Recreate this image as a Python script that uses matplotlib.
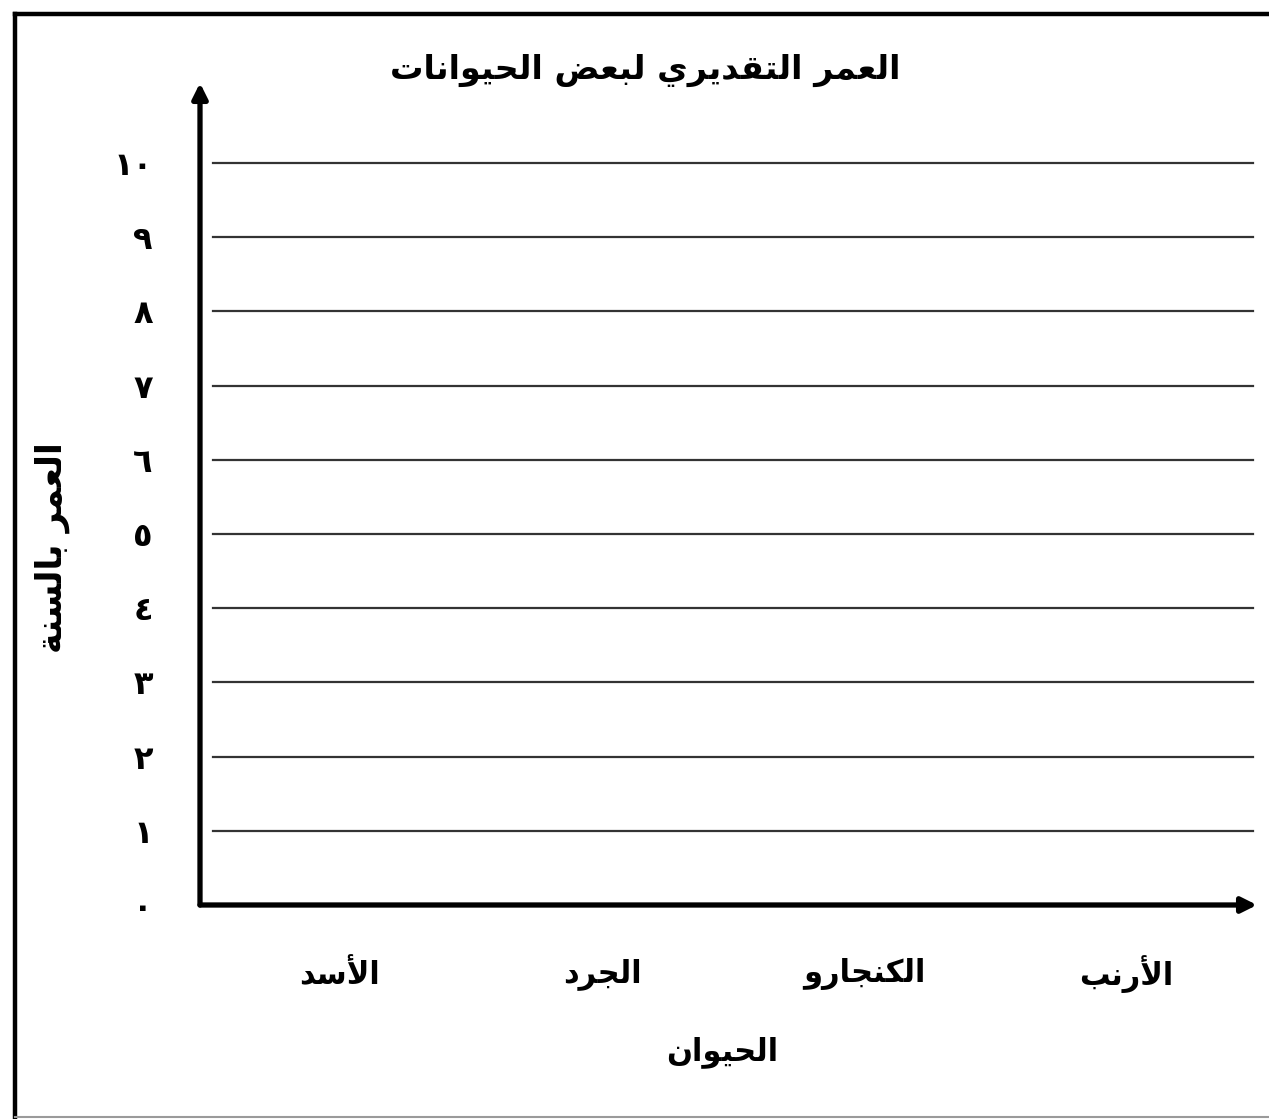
import matplotlib
matplotlib.use("Agg")
import matplotlib.pyplot as plt
from matplotlib.lines import Line2D

# ---------------- data ----------------
title_text = "العمر التقديري لبعض الحيوانات"
x_label = "الحيوان"
y_label = "العمر بالسنة"
categories = ["الأسد", "الجرد", "الكنجارو", "الأرنب"]
y_ticks = list(range(0, 11))
y_tick_labels = ["٠", "١", "٢", "٣", "٤", "٥", "٦", "٧", "٨", "٩", "١٠"]

# ---------------- simple Arabic shaping ----------------
FORMS = {
    '\u0627': ('\uFE8D', '\uFE8E', None, None),
    '\u0623': ('\uFE83', '\uFE84', None, None),
    '\u0628': ('\uFE8F', '\uFE90', '\uFE91', '\uFE92'),
    '\u0629': ('\uFE93', '\uFE94', None, None),
    '\u062A': ('\uFE95', '\uFE96', '\uFE97', '\uFE98'),
    '\u062C': ('\uFE9D', '\uFE9E', '\uFE9F', '\uFEA0'),
    '\u062D': ('\uFEA1', '\uFEA2', '\uFEA3', '\uFEA4'),
    '\u062F': ('\uFEA9', '\uFEAA', None, None),
    '\u0630': ('\uFEAB', '\uFEAC', None, None),
    '\u0631': ('\uFEAD', '\uFEAE', None, None),
    '\u0633': ('\uFEB1', '\uFEB2', '\uFEB3', '\uFEB4'),
    '\u0636': ('\uFEBD', '\uFEBE', '\uFEBF', '\uFEC0'),
    '\u0639': ('\uFEC9', '\uFECA', '\uFECB', '\uFECC'),
    '\u0642': ('\uFED5', '\uFED6', '\uFED7', '\uFED8'),
    '\u0643': ('\uFED9', '\uFEDA', '\uFEDB', '\uFEDC'),
    '\u0644': ('\uFEDD', '\uFEDE', '\uFEDF', '\uFEE0'),
    '\u0645': ('\uFEE1', '\uFEE2', '\uFEE3', '\uFEE4'),
    '\u0646': ('\uFEE5', '\uFEE6', '\uFEE7', '\uFEE8'),
    '\u0648': ('\uFEED', '\uFEEE', None, None),
    '\u064A': ('\uFEF1', '\uFEF2', '\uFEF3', '\uFEF4'),
}
LAM_ALEF = {'\u0627': ('\uFEFB', '\uFEFC'), '\u0623': ('\uFEF7', '\uFEF8')}


def shape(text):
    words_out = []
    for word in text.split(' '):
        toks = []
        i = 0
        while i < len(word):
            c = word[i]
            if c == '\u0644' and i + 1 < len(word) and word[i + 1] in LAM_ALEF:
                iso, fin = LAM_ALEF[word[i + 1]]
                toks.append((iso, fin, None, None))
                i += 2
            elif c in FORMS:
                toks.append(FORMS[c])
                i += 1
            else:
                toks.append((c, c, None, None))
                i += 1
        res = []
        for j, t in enumerate(toks):
            prev_joins = j > 0 and toks[j - 1][2] is not None
            join_next = t[2] is not None and j < len(toks) - 1
            if prev_joins and join_next:
                g = t[3]
            elif prev_joins:
                g = t[1]
            elif join_next:
                g = t[2]
            else:
                g = t[0]
            res.append(g)
        words_out.append(''.join(res)[::-1])
    return ' '.join(words_out[::-1])


# ---------------- figure ----------------
W, H = 1269, 1119
fig = plt.figure(figsize=(W / 100, H / 100), dpi=100)
fig.patch.set_facecolor('white')

FONT = ['DejaVu Sans']

x0_px, x1_px = 200, 1257
y0_px, y1_px = 905, 83
ax = fig.add_axes([x0_px / W, (H - y0_px) / H, (x1_px - x0_px) / W, (y0_px - y1_px) / H])
ax.set_facecolor('none')

x_idx = list(range(len(categories)))
ax.set_xlim(-0.534, 3.50)
ax.set_ylim(0, 11.08)

for s in ax.spines.values():
    s.set_visible(False)

# horizontal guide lines
for v in y_ticks[1:]:
    ax.axhline(v, xmin=0.012, xmax=0.996, color='#333333', lw=1.6, zorder=1)

# axes arrows
ax.annotate('', xy=(0, 1.0), xytext=(0, 0), xycoords='axes fraction',
            arrowprops=dict(arrowstyle='-|>,head_width=0.45,head_length=0.9',
                            color='black', lw=3.8, shrinkA=0, shrinkB=0), zorder=5)
ax.annotate('', xy=(1.0, 0), xytext=(0, 0), xycoords='axes fraction',
            arrowprops=dict(arrowstyle='-|>,head_width=0.45,head_length=0.9',
                            color='black', lw=3.8, shrinkA=0, shrinkB=0), zorder=5)

# ticks
ax.set_yticks(y_ticks)
ax.set_yticklabels(y_tick_labels, fontsize=23, fontweight='bold', family=FONT)
ax.tick_params(axis='y', length=0, pad=34)
ax.set_xticks(x_idx)
ax.set_xticklabels([shape(c) for c in categories], fontsize=22, fontweight='bold', family=FONT)
for lbl in ax.get_xticklabels():
    lbl.set_verticalalignment('center')
ax.tick_params(axis='x', length=0, pad=50)

# axis labels
ax.set_xlabel(shape(x_label), fontsize=22, fontweight='bold', family=FONT)
ax.xaxis.set_label_coords((722 - x0_px) / (x1_px - x0_px), -(1036 - y0_px) / (y0_px - y1_px))
ax.set_ylabel(shape(y_label), fontsize=25, fontweight='bold', family=FONT)
ax.yaxis.set_label_coords(-(x0_px - 70) / (x1_px - x0_px), (y0_px - 548) / (y0_px - y1_px))

# title
fig.text(645 / W, 1 - 70 / H, shape(title_text), fontsize=24, fontweight='bold',
         family=FONT, ha='center', va='center')

# page border
fig.add_artist(Line2D([15 / W, 15 / W], [0, 1 - 14 / H], color='black', lw=3.2,
                      transform=fig.transFigure))
fig.add_artist(Line2D([15 / W, 1.0], [1 - 14 / H, 1 - 14 / H], color='black', lw=3.2,
                      transform=fig.transFigure))
fig.add_artist(Line2D([15 / W, 1.0], [2 / H, 2 / H], color='#9a9a9a', lw=1.5,
                      transform=fig.transFigure))

fig.savefig('out.png', dpi=100, facecolor='white')
